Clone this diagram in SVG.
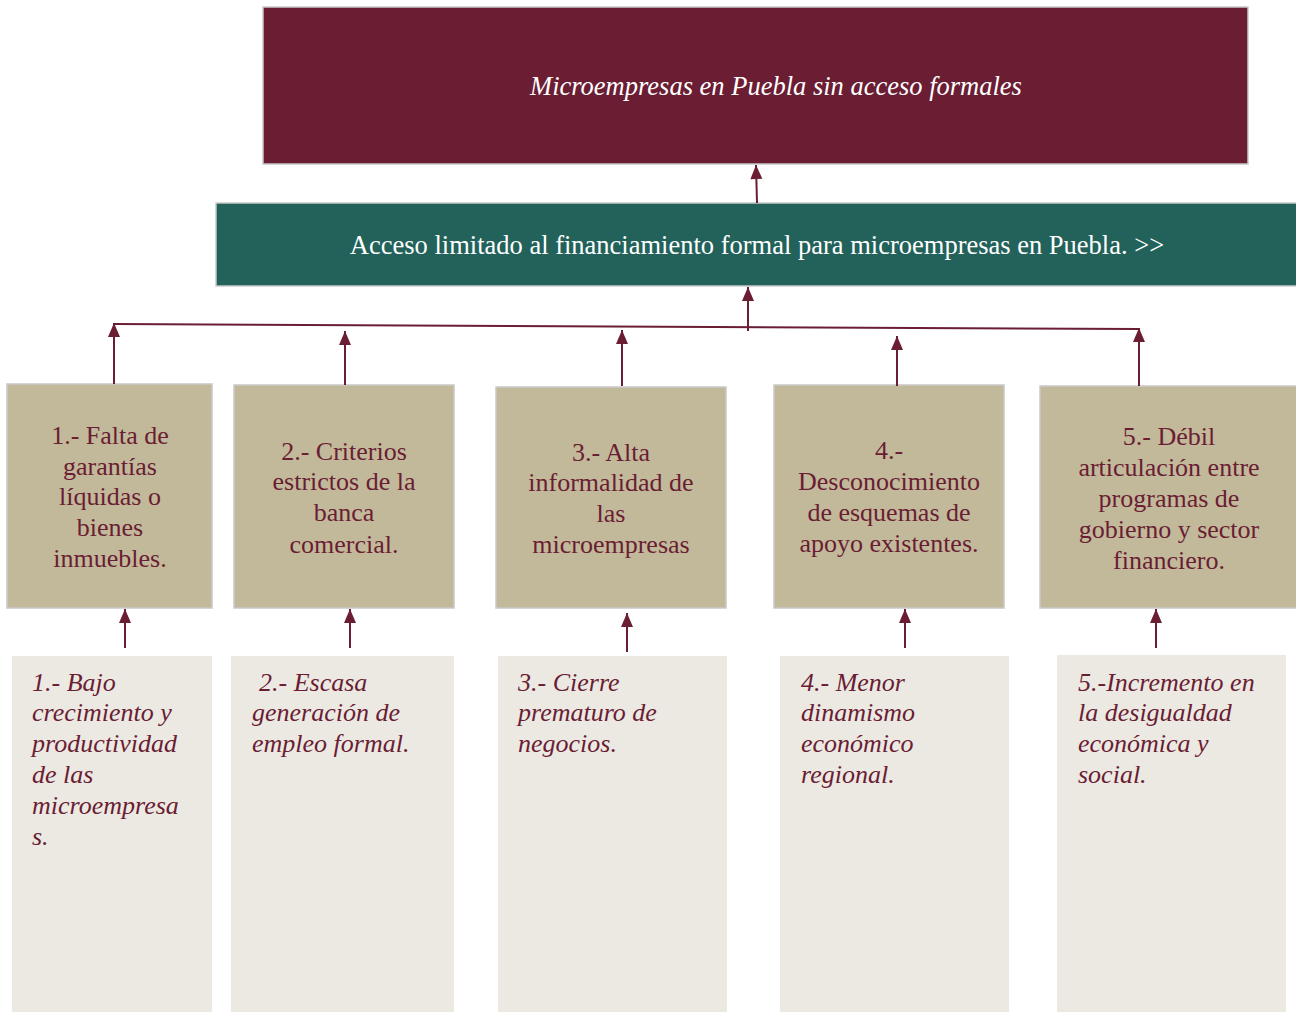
<svg xmlns="http://www.w3.org/2000/svg" width="1296" height="1012" viewBox="0 0 1296 1012">
<style>
.serif{font-family:"Liberation Serif","Times New Roman",serif;}
.t26{font-size:26px;}
.cause{fill:#c2b99a;stroke:#c9c9c9;stroke-width:1.5;}
.effect{fill:#ece9e3;}
.ctext{fill:#6a1d33;text-anchor:middle;}
.etext{fill:#6a1d33;font-style:italic;}
.conn{stroke:#6a1d33;stroke-width:2;fill:none;}
</style>
<defs>
<marker id="ah" markerUnits="userSpaceOnUse" markerWidth="16" markerHeight="14" refX="15" refY="7" orient="auto" viewBox="0 0 16 14">
<path d="M15,7 L1,1 L1,13 Z" fill="#6a1d33"/>
</marker>
</defs>
<rect width="1296" height="1012" fill="#ffffff"/>

<g id="top">
<rect x="263" y="7" width="985" height="157" fill="#6a1d33" stroke="#c9c9c9" stroke-width="1.5"/>
<text class="serif" font-size="26.5" x="776" y="95" fill="#ffffff" font-style="italic" text-anchor="middle">Microempresas en Puebla sin acceso formales</text>
</g>

<g id="problem">
<rect x="216" y="203" width="1082" height="83" fill="#22625a" stroke="#c9c9c9" stroke-width="1.5"/>
<text class="serif" font-size="26.5" x="757" y="254" fill="#ffffff" text-anchor="middle">Acceso limitado al financiamiento formal para microempresas en Puebla. &gt;&gt;</text>
</g>

<g id="cause1">
<rect class="cause" x="7" y="384" width="205" height="224"/>
<text class="serif t26 ctext"><tspan x="110" y="444">1.- Falta de</tspan><tspan x="110" y="475">garantías</tspan><tspan x="110" y="505">líquidas o</tspan><tspan x="110" y="536">bienes</tspan><tspan x="110" y="567">inmuebles.</tspan></text>
</g>
<g id="cause2">
<rect class="cause" x="234" y="385" width="220" height="223"/>
<text class="serif t26 ctext"><tspan x="344" y="460">2.- Criterios</tspan><tspan x="344" y="490">estrictos de la</tspan><tspan x="344" y="521">banca</tspan><tspan x="344" y="553">comercial.</tspan></text>
</g>
<g id="cause3">
<rect class="cause" x="496" y="387" width="230" height="221"/>
<text class="serif t26 ctext"><tspan x="611" y="461">3.- Alta</tspan><tspan x="611" y="491">informalidad de</tspan><tspan x="611" y="522">las</tspan><tspan x="611" y="553">microempresas</tspan></text>
</g>
<g id="cause4">
<rect class="cause" x="774" y="385" width="230" height="223"/>
<text class="serif t26 ctext"><tspan x="889" y="459">4.-</tspan><tspan x="889" y="490">Desconocimiento</tspan><tspan x="889" y="521">de esquemas de</tspan><tspan x="889" y="552">apoyo existentes.</tspan></text>
</g>
<g id="cause5">
<rect class="cause" x="1040" y="386" width="258" height="222"/>
<text class="serif t26 ctext"><tspan x="1169" y="445">5.- Débil</tspan><tspan x="1169" y="476">articulación entre</tspan><tspan x="1169" y="507">programas de</tspan><tspan x="1169" y="538">gobierno y sector</tspan><tspan x="1169" y="569">financiero.</tspan></text>
</g>

<g id="effect1">
<rect class="effect" x="12" y="656" width="200" height="356"/>
<text class="serif t26 etext"><tspan x="32" y="691">1.- Bajo</tspan><tspan x="32" y="721">crecimiento y</tspan><tspan x="32" y="752">productividad</tspan><tspan x="32" y="783">de las</tspan><tspan x="32" y="814">microempresa</tspan><tspan x="32" y="845">s.</tspan></text>
</g>
<g id="effect2">
<rect class="effect" x="231" y="656" width="223" height="356"/>
<text class="serif t26 etext"><tspan x="259" y="691">2.- Escasa</tspan><tspan x="252" y="721">generación de</tspan><tspan x="252" y="752">empleo formal.</tspan></text>
</g>
<g id="effect3">
<rect class="effect" x="498" y="656" width="229" height="356"/>
<text class="serif t26 etext"><tspan x="518" y="691">3.- Cierre</tspan><tspan x="518" y="721">prematuro de</tspan><tspan x="518" y="752">negocios.</tspan></text>
</g>
<g id="effect4">
<rect class="effect" x="780" y="656" width="229" height="356"/>
<text class="serif t26 etext"><tspan x="801" y="691">4.- Menor</tspan><tspan x="801" y="721">dinamismo</tspan><tspan x="801" y="752">económico</tspan><tspan x="801" y="783">regional.</tspan></text>
</g>
<g id="effect5">
<rect class="effect" x="1057" y="655" width="229" height="357"/>
<text class="serif t26 etext"><tspan x="1078" y="691">5.-Incremento en</tspan><tspan x="1078" y="721">la desigualdad</tspan><tspan x="1078" y="752">económica y</tspan><tspan x="1078" y="783">social.</tspan></text>
</g>

<g id="connectors" class="conn">
<line x1="757" y1="203" x2="756" y2="165" marker-end="url(#ah)"/>
<line x1="114" y1="324" x2="1139" y2="329"/>
<line x1="748" y1="331" x2="748" y2="287" marker-end="url(#ah)"/>
<line x1="114" y1="384" x2="114" y2="323" marker-end="url(#ah)"/>
<line x1="345" y1="385" x2="345" y2="331" marker-end="url(#ah)"/>
<line x1="622" y1="386" x2="622" y2="330" marker-end="url(#ah)"/>
<line x1="897" y1="386" x2="897" y2="336" marker-end="url(#ah)"/>
<line x1="1139" y1="386" x2="1139" y2="328" marker-end="url(#ah)"/>
<line x1="125" y1="648" x2="125" y2="609" marker-end="url(#ah)"/>
<line x1="350" y1="648" x2="350" y2="609" marker-end="url(#ah)"/>
<line x1="627" y1="652" x2="627" y2="613" marker-end="url(#ah)"/>
<line x1="905" y1="648" x2="905" y2="609" marker-end="url(#ah)"/>
<line x1="1156" y1="648" x2="1156" y2="609" marker-end="url(#ah)"/>
</g>
</svg>
